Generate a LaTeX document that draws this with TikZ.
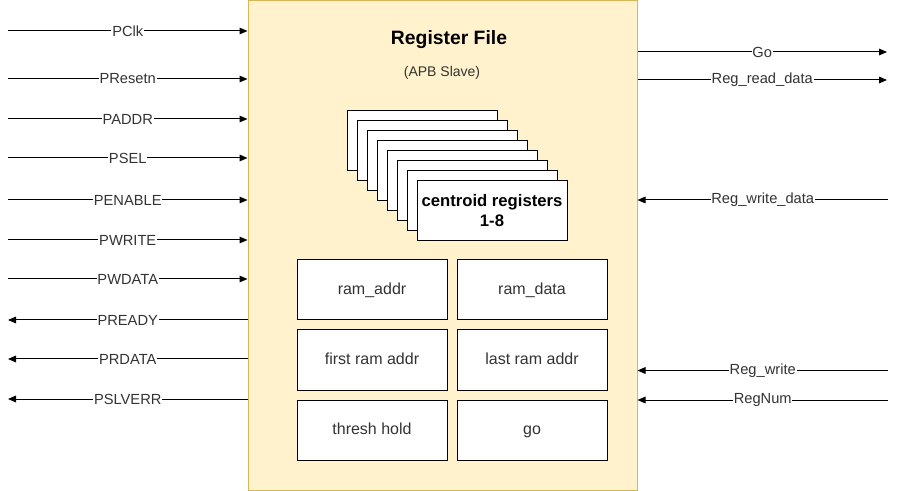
\documentclass[tikz,border=0pt]{standalone}
\usepackage{fontspec}
\setmainfont{Liberation Sans}
\usetikzlibrary{arrows.meta}
\definecolor{rfFill}{HTML}{FFF2CC}
\definecolor{rfLine}{HTML}{D6B656}
\definecolor{txtGray}{HTML}{333333}
\begin{document}
\begin{tikzpicture}[x=0.75pt,y=-0.75pt,
  sig/.style={line width=0.75pt,-{Triangle[length=6pt,width=5pt]}},
  lbl/.style={fill=white,inner sep=0.6pt,font=\fontsize{11}{13}\selectfont,text=txtGray},
  rfbox/.style={draw=rfLine,fill=rfFill,line width=0.75pt,inner sep=0pt,
    minimum width=291.75pt,minimum height=366.75pt},
  regbox/.style={draw=black,fill=white,line width=0.75pt,inner sep=0pt,
    minimum width=112.5pt,minimum height=45pt,font=\fontsize{12}{14}\selectfont,text=txtGray,
    text height=8.8pt,text depth=2.6pt},
  cenbox/.style={draw=black,fill=white,line width=0.75pt,inner sep=0pt,
    minimum width=112.5pt,minimum height=45pt,align=center,
    font=\fontsize{12.5}{15}\selectfont\bfseries}
]
\useasboundingbox (0,0) rectangle (899,491);

% main block
\node[rfbox] (rf) at (442.5,245.5) {};
\node[font=\fontsize{14.5}{17}\selectfont\bfseries] (title) at (449,40) {Register File};
\node[font=\fontsize{10.5}{12}\selectfont,text=txtGray] (sub) at (442,73) {(APB Slave)};

% centroid register stack
\foreach \i in {0,...,6}{
  \node[cenbox] (c\i) at (422+10*\i,141+10*\i) {};
}
\node[cenbox] (c7) at (492,211) {centroid registers\\1-8};

% register boxes
\node[regbox] (ramaddr) at (372,290) {ram\_addr};
\node[regbox] (ramdata) at (532,290) {ram\_data};
\node[regbox] (firstaddr) at (372,360) {first ram addr};
\node[regbox] (lastaddr) at (532,360) {last ram addr};
\node[regbox] (thresh) at (372,430) {thresh hold};
\node[regbox] (gobox) at (532,430) {go};

% left side signal ends
\coordinate (pclk) at (8,31);
\coordinate (presetn) at (8,79);
\coordinate (paddr) at (8,119);
\coordinate (psel) at (8,158);
\coordinate (penable) at (8,200);
\coordinate (pwrite) at (8,240);
\coordinate (pwdata) at (8,279);
\coordinate (pready) at (8,320);
\coordinate (prdata) at (8,359);
\coordinate (pslverr) at (8,399);

\draw[sig] (pclk) -- node[lbl]{PClk} (rf.west |- pclk);
\draw[sig] (presetn) -- node[lbl]{PResetn} (rf.west |- presetn);
\draw[sig] (paddr) -- node[lbl]{PADDR} (rf.west |- paddr);
\draw[sig] (psel) -- node[lbl]{PSEL} (rf.west |- psel);
\draw[sig] (penable) -- node[lbl]{PENABLE} (rf.west |- penable);
\draw[sig] (pwrite) -- node[lbl]{PWRITE} (rf.west |- pwrite);
\draw[sig] (pwdata) -- node[lbl]{PWDATA} (rf.west |- pwdata);
\draw[sig] (rf.west |- pready) -- node[lbl]{PREADY} (pready);
\draw[sig] (rf.west |- prdata) -- node[lbl]{PRDATA} (prdata);
\draw[sig] (rf.west |- pslverr) -- node[lbl]{PSLVERR} (pslverr);

% right side signal ends
\coordinate (goo) at (887,52);
\coordinate (rdata) at (887,80);
\coordinate (wdata) at (888,200);
\coordinate (rwrite) at (888,370.5);
\coordinate (regnum) at (888,400);

\draw[sig] (rf.east |- goo) -- node[lbl]{Go} (goo);
\draw[sig] (rf.east |- rdata) -- node[lbl]{Reg\_read\_data} (rdata);
\draw[sig] (wdata) -- node[lbl]{Reg\_write\_data} (rf.east |- wdata);
\draw[sig] (rwrite) -- node[lbl]{Reg\_write} (rf.east |- rwrite);
\draw[sig] (regnum) -- node[lbl]{RegNum} (rf.east |- regnum);
\end{tikzpicture}
\end{document}
